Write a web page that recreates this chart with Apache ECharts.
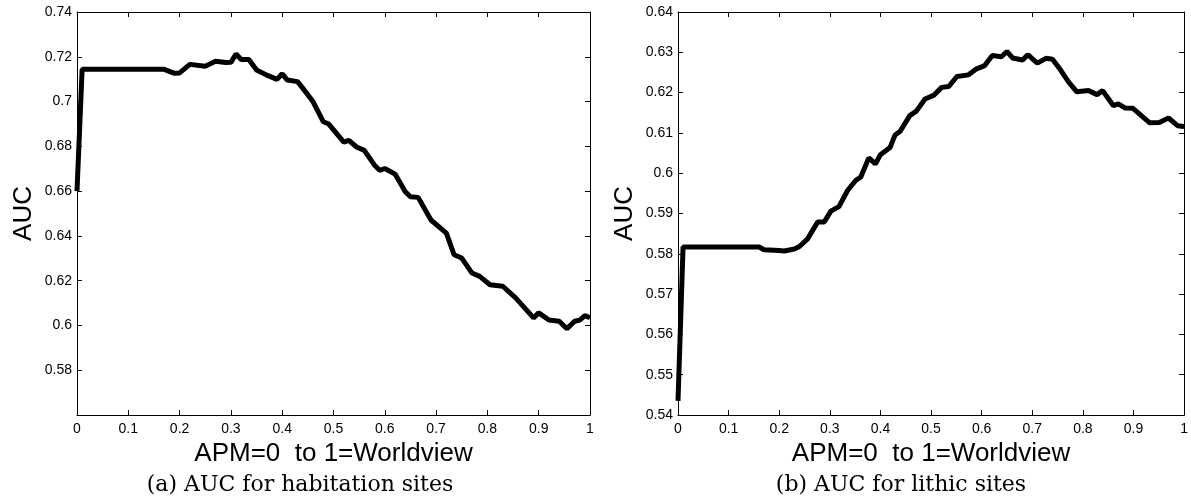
<!DOCTYPE html>
<html>
<head>
<meta charset="utf-8">
<script src="https://cdn.jsdelivr.net/npm/echarts@6/dist/echarts.min.js"></script>
<style>
  html, body { margin: 0; padding: 0; background: #fff; }
  #chart { width: 1191px; height: 499px; }
</style>
</head>
<body>
<div id="chart"></div>
<script>
// (a) habitation sites
var apmHab = [0, 0.01, 0.17, 0.19, 0.20, 0.22, 0.25, 0.27, 0.29, 0.30, 0.31, 0.32, 0.335, 0.35, 0.37, 0.39,
  0.40, 0.41, 0.43, 0.44, 0.46, 0.48, 0.49, 0.52, 0.53, 0.545, 0.56, 0.58, 0.59, 0.60, 0.62, 0.64, 0.65,
  0.665, 0.69, 0.72, 0.735, 0.75, 0.77, 0.785, 0.805, 0.83, 0.855, 0.89, 0.90, 0.92, 0.94, 0.955, 0.97,
  0.98, 0.99, 1.0];
var aucHab = [0.660, 0.7144, 0.7144, 0.7126, 0.7128, 0.7166, 0.7158, 0.7180, 0.7174, 0.7175, 0.7212, 0.7188,
  0.7188, 0.7141, 0.7118, 0.7099, 0.7124, 0.7096, 0.7089, 0.7060, 0.7000, 0.6910, 0.6901, 0.6819, 0.6827,
  0.6797, 0.6782, 0.6716, 0.6693, 0.6701, 0.6676, 0.6597, 0.6575, 0.6572, 0.6471, 0.6412, 0.6316, 0.6301,
  0.6234, 0.6219, 0.6182, 0.6175, 0.6123, 0.6034, 0.6056, 0.6024, 0.6019, 0.5985, 0.6019, 0.6024, 0.6044,
  0.6034];

// (b) lithic sites
var apmLith = [0, 0.01, 0.16, 0.17, 0.20, 0.21, 0.23, 0.24, 0.256, 0.276, 0.289, 0.302, 0.318, 0.335, 0.351,
  0.361, 0.377, 0.39, 0.40, 0.419, 0.429, 0.439, 0.458, 0.471, 0.488, 0.505, 0.521, 0.535, 0.551, 0.574,
  0.59, 0.606, 0.621, 0.639, 0.65, 0.661, 0.681, 0.691, 0.71, 0.727, 0.74, 0.756, 0.772, 0.788, 0.811,
  0.828, 0.839, 0.86, 0.87, 0.883, 0.899, 0.932, 0.951, 0.969, 0.987, 1.0];
var aucLith = [0.5435, 0.5817, 0.5817, 0.5810, 0.5808, 0.5807, 0.5812, 0.5818, 0.5837, 0.5879, 0.5879, 0.5906,
  0.5917, 0.5957, 0.5982, 0.5990, 0.6038, 0.6023, 0.6046, 0.6064, 0.6095, 0.6104, 0.6143, 0.6154, 0.6184,
  0.6193, 0.6213, 0.6215, 0.6240, 0.6244, 0.6259, 0.6267, 0.6292, 0.6289, 0.6302, 0.6286, 0.6281, 0.6294,
  0.6273, 0.6285, 0.6283, 0.6256, 0.6226, 0.6202, 0.6205, 0.6195, 0.6205, 0.6168, 0.6172, 0.6162, 0.6161,
  0.6125, 0.6126, 0.6137, 0.6118, 0.6116];

var xName = 'APM=0  to 1=Worldview';
var yName = 'AUC';
var captions = ['(a) AUC for habitation sites', '(b) AUC for lithic sites'];

function pairs(xs, ys) {
  var out = [];
  for (var i = 0; i < xs.length; i++) out.push([xs[i], ys[i]]);
  return out;
}

var sans = '"Liberation Sans", Arial, sans-serif';
var axisLine = {show: true, onZero: false, lineStyle: {color: '#000', width: 1}};
var tick = {show: true, inside: true, length: 5, lineStyle: {color: '#000', width: 1}};

function xAxes(gi) {
  return [{
    type: 'value', gridIndex: gi, min: 0, max: 1, interval: 0.1, position: 'bottom',
    name: xName, nameLocation: 'middle', nameGap: 20,
    nameTextStyle: {fontFamily: sans, fontSize: 26, color: '#000'},
    axisLine: axisLine, axisTick: tick, splitLine: {show: false},
    axisLabel: {show: true, margin: 7, fontFamily: sans, fontSize: 14, color: '#000',
      showMinLabel: true, showMaxLabel: true, hideOverlap: false}
  }, {
    type: 'value', gridIndex: gi, min: 0, max: 1, interval: 0.1, position: 'top',
    axisLine: axisLine, axisTick: tick, splitLine: {show: false}, axisLabel: {show: false}
  }];
}

function yAxes(gi, lo, hi, step, hideMin) {
  return [{
    type: 'value', gridIndex: gi, min: lo, max: hi, interval: step, position: 'left',
    name: yName, nameLocation: 'middle', nameGap: 40, nameRotate: 90,
    nameTextStyle: {fontFamily: sans, fontSize: 26, color: '#000'},
    axisLine: axisLine, axisTick: tick, splitLine: {show: false},
    axisLabel: {show: true, margin: 5, fontFamily: sans, fontSize: 14, color: '#000',
      showMinLabel: !hideMin, showMaxLabel: true, hideOverlap: false,
      formatter: function (v) { return String(+v.toFixed(2)); }}
  }, {
    type: 'value', gridIndex: gi, min: lo, max: hi, interval: step, position: 'right',
    axisLine: axisLine, axisTick: tick, splitLine: {show: false}, axisLabel: {show: false}
  }];
}

var chart = echarts.init(document.getElementById('chart'), null, {renderer: 'canvas'});

var capFont = '22px "DejaVu Serif", serif';

var option = {
  animation: false,
  backgroundColor: '#fff',
  grid: [
    {left: 77, top: 12, width: 513, height: 403},
    {left: 678, top: 12, width: 512, height: 403}
  ],
  xAxis: xAxes(0).concat(xAxes(1)),
  yAxis: yAxes(0, 0.56, 0.74, 0.02, true).concat(yAxes(1, 0.54, 0.64, 0.01, false)),
  series: [{
    type: 'line', xAxisIndex: 0, yAxisIndex: 0, data: pairs(apmHab, aucHab),
    showSymbol: false, lineStyle: {color: '#000', width: 5}
  }, {
    type: 'line', xAxisIndex: 2, yAxisIndex: 2, data: pairs(apmLith, aucLith),
    showSymbol: false, lineStyle: {color: '#000', width: 5}
  }],
  graphic: [{
    type: 'text', x: 300, y: 474, style: {
      text: captions[0], font: capFont, fill: '#000', align: 'center', verticalAlign: 'top'
    }
  }, {
    type: 'text', x: 901, y: 474, style: {
      text: captions[1], font: capFont, fill: '#000', align: 'center', verticalAlign: 'top'
    }
  }]
};

chart.setOption(option);
</script>
</body>
</html>
